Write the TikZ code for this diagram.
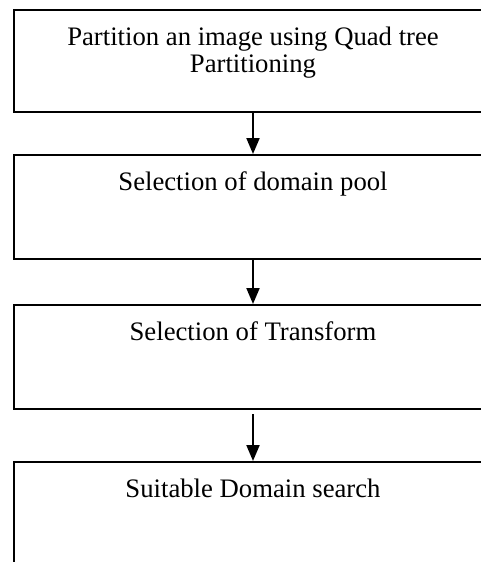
\documentclass[tikz,border=0pt]{standalone}
\usepackage{fontspec}
\setmainfont{Liberation Serif}
\usetikzlibrary{arrows.meta}
\begin{document}
\begin{tikzpicture}[x=1pt,y=-1pt,
  stepbox/.style={draw, line width=2pt, rectangle, minimum width=478pt, inner sep=0pt, anchor=north west},
  steptext/.style={font=\fontsize{26.7}{27}\selectfont, align=center, anchor=base, inner sep=0pt},
  flow/.style={line width=2pt, -{Triangle[width=13pt,length=16pt]}}]
\useasboundingbox (0,0) rectangle (481,562);
\clip (0,0) rectangle (481,562);
\node[stepbox, minimum height=102pt] (b1) at (13,9) {};
\node[stepbox, minimum height=104pt] (b2) at (13,154) {};
\node[stepbox, minimum height=104pt] (b3) at (13,304) {};
\node[stepbox, minimum height=160pt] (b4) at (13,461) {};
\node[steptext] (t1) at ([yshift=-63pt]b1.north) {Partition an image using Quad tree\\Partitioning};
\node[steptext] (t2) at ([yshift=-36pt]b2.north) {Selection of domain pool};
\node[steptext] (t3) at ([yshift=-36pt]b3.north) {Selection of Transform};
\node[steptext] (t4) at ([yshift=-36pt]b4.north) {Suitable Domain search};
\draw[flow] (b1.south) -- (b2.north);
\draw[flow] (b2.south) -- (b3.north);
\draw[flow, shorten <=4pt] (b3.south) -- (b4.north);
\end{tikzpicture}
\end{document}
